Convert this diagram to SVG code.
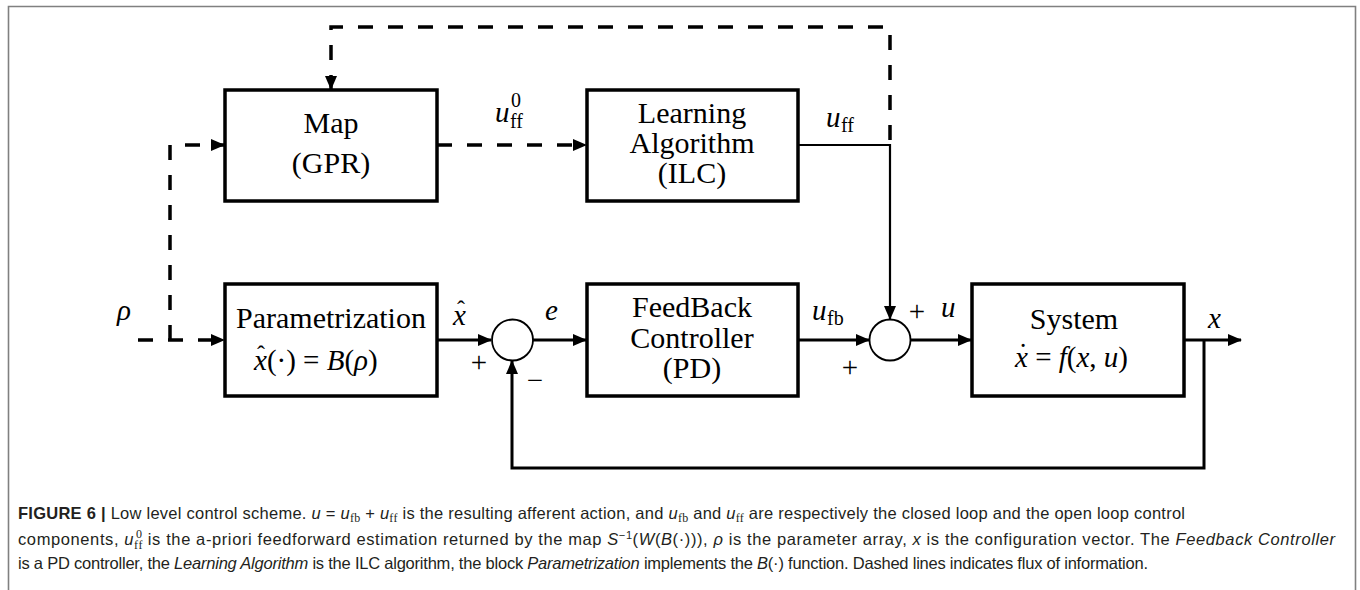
<svg xmlns="http://www.w3.org/2000/svg" width="1360" height="590" viewBox="0 0 1360 590">
<style>
.box{fill:#fff;stroke:#000;stroke-width:3.5}
.sum{fill:#fff;stroke:#000;stroke-width:1.8}
.ln{fill:none;stroke:#000;stroke-width:3}
.thin{fill:none;stroke:#000;stroke-width:2.2}
.dash{fill:none;stroke:#000;stroke-width:3.5;stroke-dasharray:15 15}
.t{font-family:"Liberation Serif","Times New Roman",serif;font-size:30px;fill:#000;text-anchor:middle}
.m{font-family:"Liberation Serif","Times New Roman",serif;font-size:29px;fill:#000}
.i{font-style:italic}
.s{font-size:20px;font-style:normal}
.cap{font-family:"Liberation Sans",Arial,sans-serif;font-size:16.5px;fill:#231f20}
.cs{font-family:"Liberation Serif",serif;font-size:12px}
</style>
<defs>
<marker id="ah" markerUnits="userSpaceOnUse" markerWidth="14" markerHeight="12" refX="13" refY="6" orient="auto">
<path d="M0,0 L14,6 L0,12 Z" fill="#000"/>
</marker>
</defs>
<rect width="1360" height="590" fill="#fff"/>
<path d="M8.5,590 V6.5 H1355.5 V590" fill="none" stroke="#808080" stroke-width="1.6"/>

<g id="connectors">
<path class="dash" d="M890,140 V27 H331 V89" marker-end="url(#ah)"/>
<path class="dash" d="M437,145 H586" marker-end="url(#ah)"/>
<path class="dash" d="M138,340 H224" marker-end="url(#ah)"/>
<path class="dash" d="M170,340 V145 H224" marker-end="url(#ah)"/>
<path class="thin" d="M798,145 H890 V319" marker-end="url(#ah)"/>
<path class="ln" d="M437,340 H491" marker-end="url(#ah)"/>
<path class="ln" d="M533,340 H586" marker-end="url(#ah)"/>
<path class="ln" d="M798,340 H869" marker-end="url(#ah)"/>
<path class="ln" d="M911,340 H971" marker-end="url(#ah)"/>
<path class="ln" d="M1184,340 H1241" marker-end="url(#ah)"/>
<path class="ln" d="M1204,340 V468 H512 V361" marker-end="url(#ah)"/>
</g>

<g id="map">
<rect class="box" x="225" y="90" width="212" height="111"/>
<text class="t" x="331" y="133">Map</text>
<text class="t" x="331" y="173">(GPR)</text>
</g>
<g id="learning">
<rect class="box" x="587" y="90" width="211" height="111"/>
<text class="t" x="692" y="123">Learning</text>
<text class="t" x="692" y="153">Algorithm</text>
<text class="t" x="692" y="183">(ILC)</text>
</g>
<g id="param">
<rect class="box" x="225" y="284" width="212" height="112"/>
<text class="t" x="331" y="328">Parametrization</text>
<text class="m" x="254" y="370"><tspan class="i">x</tspan>(·) = <tspan class="i">B</tspan>(<tspan class="i">ρ</tspan>)</text>
<text class="m" x="261" y="362" style="text-anchor:middle;font-size:24px">ˆ</text>
</g>
<g id="sum1">
<circle class="sum" cx="512.5" cy="340" r="20.5"/>
</g>
<g id="feedback">
<rect class="box" x="587" y="284" width="211" height="112"/>
<text class="t" x="692" y="317">FeedBack</text>
<text class="t" x="692" y="348">Controller</text>
<text class="t" x="692" y="378">(PD)</text>
</g>
<g id="sum2">
<circle class="sum" cx="890" cy="340" r="20.5"/>
</g>
<g id="system">
<rect class="box" x="972" y="284" width="212" height="112"/>
<text class="t" x="1074" y="329">System</text>
<text class="m" x="1015" y="367"><tspan class="i">x</tspan> = <tspan class="i">f</tspan>(<tspan class="i">x</tspan>, <tspan class="i">u</tspan>)</text>
<text class="m" x="1023" y="364" style="text-anchor:middle">˙</text>
</g>

<g id="labels">
<text class="m" x="495" y="122"><tspan class="i">u</tspan></text>
<text class="m s" x="510" y="128">ff</text>
<text class="m s" x="511" y="107">0</text>
<text class="m" x="826" y="127"><tspan class="i">u</tspan></text>
<text class="m s" x="841" y="132">ff</text>
<text class="m i" x="117" y="320">ρ</text>
<text class="m i" x="453" y="325">x</text>
<text class="m" x="461" y="317" style="text-anchor:middle;font-size:24px">ˆ</text>
<text class="m i" x="545" y="320">e</text>
<text class="m" x="812" y="320"><tspan class="i">u</tspan></text>
<text class="m s" x="827" y="325">fb</text>
<text class="m" x="479" y="372" style="text-anchor:middle">+</text>
<text class="m" x="535" y="390" style="text-anchor:middle">−</text>
<text class="m" x="850" y="377" style="text-anchor:middle">+</text>
<text class="m" x="917" y="321" style="text-anchor:middle">+</text>
<text class="m i" x="941" y="317">u</text>
<text class="m i" x="1208" y="328">x</text>
</g>

<g id="caption">
<text class="cap" x="18" y="519" textLength="1167" lengthAdjust="spacing"><tspan font-weight="bold">FIGURE 6 | </tspan>Low level control scheme. <tspan font-style="italic">u</tspan> = <tspan font-style="italic">u</tspan><tspan class="cs" dy="3">fb</tspan><tspan dy="-3"> + </tspan><tspan font-style="italic">u</tspan><tspan class="cs" dy="3">ff</tspan><tspan dy="-3"> is the resulting afferent action, and </tspan><tspan font-style="italic">u</tspan><tspan class="cs" dy="3">fb</tspan><tspan dy="-3"> and </tspan><tspan font-style="italic">u</tspan><tspan class="cs" dy="3">ff</tspan><tspan dy="-3"> are respectively the closed loop and the open loop control</tspan></text>
<text class="cap" x="18" y="545" textLength="1317" lengthAdjust="spacing">components, <tspan font-style="italic">u</tspan><tspan class="cs" dy="4">ff</tspan><tspan class="cs" dx="-7" dy="-11">0</tspan><tspan dy="7"> is the a-priori feedforward estimation returned by the map </tspan><tspan font-style="italic">S</tspan><tspan font-size="11px" dy="-6">−1</tspan><tspan dy="6">(</tspan><tspan font-style="italic">W</tspan>(<tspan font-style="italic">B</tspan>(·))), <tspan font-style="italic">ρ</tspan> is the parameter array, <tspan font-style="italic">x</tspan> is the configuration vector. The <tspan font-style="italic">Feedback Controller</tspan></text>
<text class="cap" x="18" y="569" textLength="1130" lengthAdjust="spacing">is a PD controller, the <tspan font-style="italic">Learning Algorithm</tspan> is the ILC algorithm, the block <tspan font-style="italic">Parametrization</tspan> implements the <tspan font-style="italic">B</tspan>(·) function. Dashed lines indicates flux of information.</text>
</g>
</svg>
